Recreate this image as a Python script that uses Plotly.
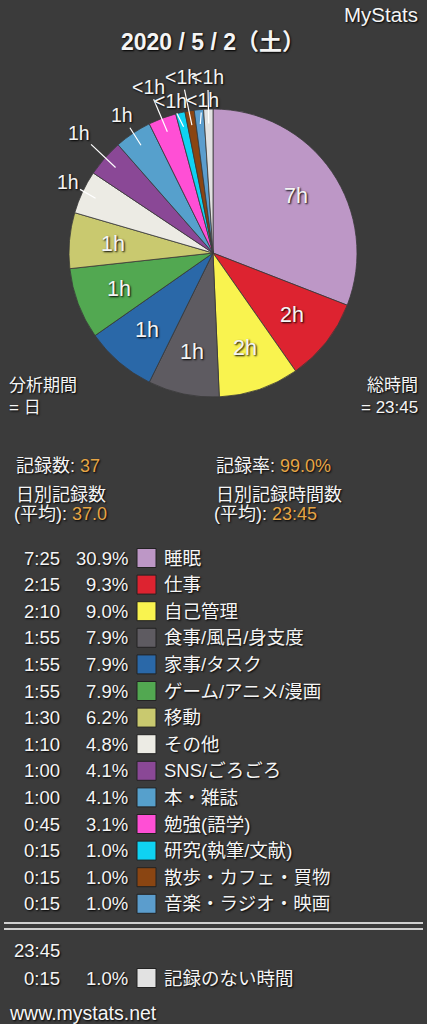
import math
import plotly.graph_objects as go

# ---------------- data ----------------
categories = ["睡眠", "仕事", "自己管理", "食事/風呂/身支度", "家事/タスク",
              "ゲーム/アニメ/漫画", "移動", "その他", "SNS/ごろごろ", "本・雑誌",
              "勉強(語学)", "研究(執筆/文献)", "散歩・カフェ・買物", "音楽・ラジオ・映画"]
minutes = [445, 135, 130, 115, 115, 115, 90, 70, 60, 60, 45, 15, 15, 15]
percents = [30.9, 9.3, 9.0, 7.9, 7.9, 7.9, 6.2, 4.8, 4.1, 4.1, 3.1, 1.0, 1.0, 1.0]
unrecorded_label = "記録のない時間"
unrecorded_minutes = 15
unrecorded_percent = 1.0

title_text = "2020 / 5 / 2（土）"
period_text = "日"
total_text = "23:45"
record_count = "37"
record_rate = "99.0%"
daily_count = "37.0"
daily_time = "23:45"

# ---------------- style ----------------
colors = ["#bd97c6", "#dd2330", "#f9f34f", "#5e5b61", "#2a68a8", "#52a851",
          "#c9c96f", "#ecebe4", "#8a4896", "#56a0cc", "#ff4fd5", "#0fd2f2",
          "#8a4512", "#5b9dcd"]
unrecorded_color = "#e2e2e2"
BG = "#3b3b3b"
WHITE = "#f5f5f5"
ORANGE = "#e6a545"
FONT = "Liberation Sans, Arial, Noto Sans CJK JP, sans-serif"
SHADOW = "1px 1px 2px #000000"

W, H = 427, 1024
CX, CY, R = 213, 253, 144          # pie centre / radius in pixels
INSIDE_COUNT = 7                    # slices with labels inside
INSIDE_FRAC = 0.70
HEAD_FRAC = 0.90
outside_offsets = [(-28, -16), (-37, -35), (-19, -30), (-19, -45),
                   (-13, -26), (-10, -48), (2, -24), (-1, -46)]

ROW0, ROW_DY = 558, 26.6
X_TIME, X_PCT, X_SQ, X_LABEL = 62, 130, 146.5, 162

pie_labels = categories + [unrecorded_label]
pie_values = minutes + [unrecorded_minutes]
pie_colors = colors + [unrecorded_color]


def hour_text(m):
    return f"{m // 60}h" if m >= 60 else "<1h"


def hm(m):
    return f"{m // 60}:{m % 60:02d}"


fig = go.Figure()

fig.add_trace(go.Pie(
    labels=pie_labels, values=pie_values, sort=False, direction="clockwise",
    rotation=0, textinfo="none", hoverinfo="skip", showlegend=False,
    marker=dict(colors=pie_colors, line=dict(color="#3a3a3a", width=0.8)),
    domain=dict(x=[(CX - R) / W, (CX + R) / W], y=[1 - (CY + R) / H, 1 - (CY - R) / H]),
))

# legend squares
n = len(categories)
row_y = [ROW0 + ROW_DY * i for i in range(n)]
UNREC_TOTAL_Y, UNREC_Y = 950, 978
fig.add_trace(go.Scatter(
    x=[X_SQ] * (n + 1), y=row_y + [UNREC_Y], mode="markers", hoverinfo="skip",
    showlegend=False,
    marker=dict(symbol="square", size=19, color=pie_colors,
                line=dict(color="#222222", width=1)),
))

annotations = []


def txt(x, y, text, size=18, anchor="left", bold=False, color=WHITE, yanchor="middle"):
    annotations.append(dict(
        x=x, y=y, xref="x", yref="y", text=f"<b>{text}</b>" if bold else text,
        showarrow=False, xanchor=anchor, yanchor=yanchor,
        font=dict(family=FONT, size=size, color=color, shadow=SHADOW)))


# pie labels
total = sum(pie_values)
cum = 0
for i, v in enumerate(pie_values):
    mid = (cum + v / 2) / total * 2 * math.pi
    cum += v
    s, c = math.sin(mid), math.cos(mid)
    if i < INSIDE_COUNT:
        txt(CX + R * INSIDE_FRAC * s, CY - R * INSIDE_FRAC * c, hour_text(v), size=21.5, anchor="center")
    else:
        ax, ay = outside_offsets[i - INSIDE_COUNT]
        annotations.append(dict(
            x=CX + R * HEAD_FRAC * s, y=CY - R * HEAD_FRAC * c, xref="x", yref="y",
            text=hour_text(v), showarrow=True, arrowhead=0, arrowwidth=1.2,
            arrowcolor="#ffffff", standoff=0, ax=ax, ay=ay,
            font=dict(family=FONT, size=19.5, color=WHITE, shadow=SHADOW)))

# header texts
txt(420, 14, "MyStats", size=20.5, anchor="right")
txt(213, 42, title_text, size=23, anchor="center", bold=True)
txt(7, 385, "分析期間", size=17)
txt(7, 407, f"= {period_text}", size=17)
txt(420, 385, "総時間", size=17, anchor="right")
txt(420, 407, f"= {total_text}", size=17, anchor="right")

# stats block
txt(14, 466, f"記録数: <span style='color:{ORANGE}'>{record_count}</span>", size=18)
txt(214, 466, f"記録率: <span style='color:{ORANGE}'>{record_rate}</span>", size=18)
txt(14, 495, "日別記録数", size=18)
txt(12, 514, f"(平均): <span style='color:{ORANGE}'>{daily_count}</span>", size=18)
txt(214, 495, "日別記録時間数", size=18)
txt(212, 514, f"(平均): <span style='color:{ORANGE}'>{daily_time}</span>", size=18)

# legend rows
for i in range(n):
    txt(X_TIME, row_y[i], hm(minutes[i]), size=18.5, anchor="right")
    txt(X_PCT, row_y[i], f"{percents[i]:.1f}%", size=18.5, anchor="right")
    txt(X_LABEL, row_y[i], categories[i], size=18.5)

txt(X_TIME, UNREC_TOTAL_Y, hm(sum(minutes)), size=18.5, anchor="right")
txt(X_TIME, UNREC_Y, hm(unrecorded_minutes), size=18.5, anchor="right")
txt(X_PCT, UNREC_Y, f"{unrecorded_percent:.1f}%", size=18.5, anchor="right")
txt(X_LABEL, UNREC_Y, unrecorded_label, size=18.5)

txt(7, 1013, "www.mystats.net", size=19.5)

shapes = [dict(type="line", xref="x", yref="y", x0=4, x1=423, y0=yy, y1=yy,
               line=dict(color="#d0d0d0", width=2)) for yy in (923, 929)]

fig.update_layout(
    width=W, height=H, margin=dict(l=0, r=0, t=0, b=0),
    paper_bgcolor=BG, plot_bgcolor=BG,
    xaxis=dict(range=[0, W], domain=[0, 1], visible=False, fixedrange=True),
    yaxis=dict(range=[H, 0], domain=[0, 1], visible=False, fixedrange=True),
    annotations=annotations, shapes=shapes, showlegend=False,
)

fig.write_html(
    "out.html",
    config={"displayModeBar": False},
    post_script="document.body.style.margin='0px';document.body.style.padding='0px';"
                "document.documentElement.style.overflow='hidden';",
)
